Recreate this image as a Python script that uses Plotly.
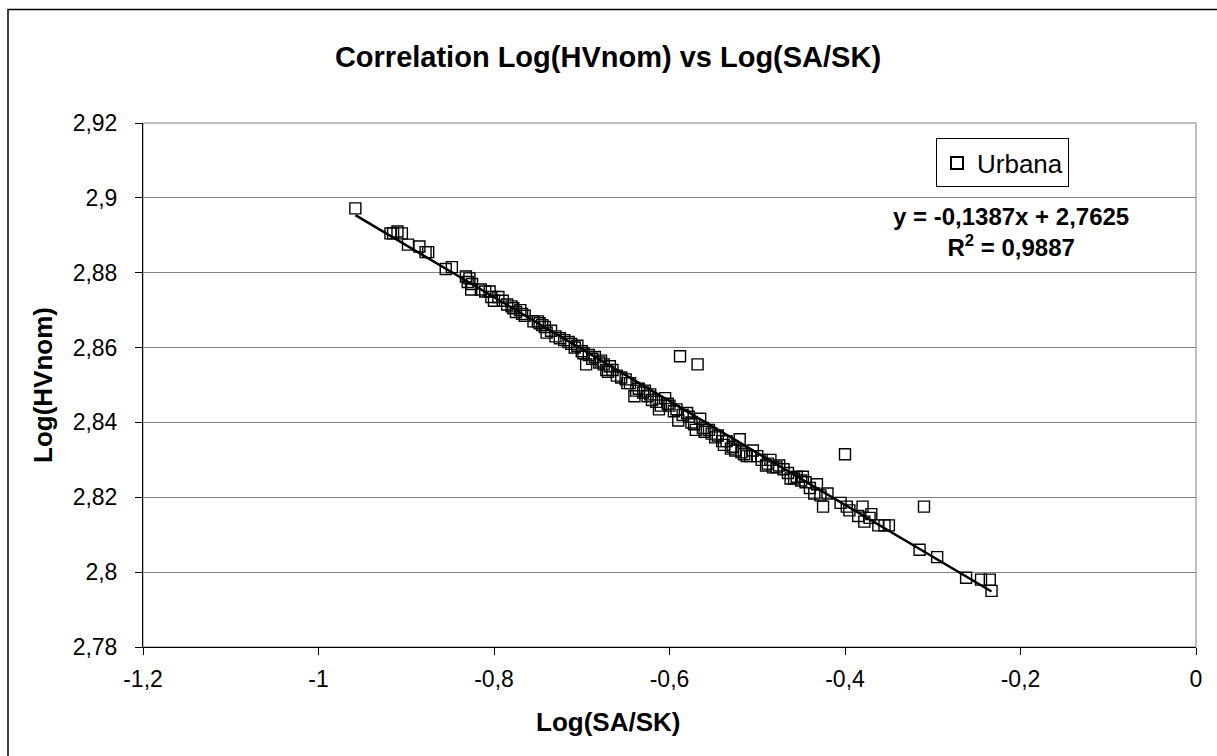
import plotly.graph_objects as go
import numpy as np

# Data (Log(SA/SK), Log(HVnom))
log_sa_sk = [
    -0.958, -0.918, -0.915, -0.910, -0.905, -0.898, -0.885, -0.878, -0.875,
    -0.855, -0.848, -0.832, -0.830, -0.828, -0.826, -0.825, -0.815, -0.810,
    -0.805, -0.803, -0.800, -0.795, -0.790, -0.785, -0.780, -0.778, -0.775,
    -0.770, -0.768, -0.765, -0.755, -0.750, -0.748, -0.745, -0.742, -0.740,
    -0.735, -0.730, -0.725, -0.720, -0.715, -0.712, -0.708, -0.705, -0.700,
    -0.698, -0.695, -0.692, -0.688, -0.685, -0.680, -0.678, -0.675, -0.672,
    -0.670, -0.668, -0.665, -0.660, -0.655, -0.650, -0.648, -0.645, -0.640,
    -0.638, -0.635, -0.630, -0.628, -0.625, -0.622, -0.620, -0.615, -0.612,
    -0.610, -0.605, -0.602, -0.600, -0.595, -0.592, -0.590, -0.588, -0.585,
    -0.580, -0.578, -0.575, -0.572, -0.570, -0.568, -0.565, -0.562, -0.560,
    -0.555, -0.552, -0.548, -0.545, -0.540, -0.538, -0.535, -0.530, -0.528,
    -0.525, -0.520, -0.518, -0.515, -0.512, -0.508, -0.505, -0.500, -0.495,
    -0.490, -0.488, -0.485, -0.482, -0.478, -0.475, -0.470, -0.465, -0.462,
    -0.458, -0.455, -0.450, -0.448, -0.445, -0.440, -0.435, -0.432, -0.428,
    -0.425, -0.420, -0.405, -0.400, -0.398, -0.395, -0.385, -0.380, -0.378,
    -0.372, -0.370, -0.362, -0.355, -0.350, -0.315, -0.310, -0.295, -0.262,
    -0.245, -0.235, -0.233,
]
log_hvnom = [
    2.8972, 2.8905, 2.8905, 2.8910, 2.8905, 2.8875, 2.8870, 2.8855, 2.8855,
    2.8810, 2.8815, 2.8790, 2.8775, 2.8785, 2.8755, 2.8770, 2.8755, 2.8750,
    2.8750, 2.8735, 2.8725, 2.8735, 2.8725, 2.8715, 2.8710, 2.8705, 2.8695,
    2.8700, 2.8690, 2.8685, 2.8670, 2.8670, 2.8665, 2.8660, 2.8655, 2.8640,
    2.8645, 2.8630, 2.8625, 2.8620, 2.8615, 2.8610, 2.8600, 2.8605, 2.8590,
    2.8585, 2.8555, 2.8580, 2.8570, 2.8575, 2.8560, 2.8565, 2.8555, 2.8540,
    2.8535, 2.8550, 2.8540, 2.8525, 2.8520, 2.8515, 2.8505, 2.8505, 2.8470,
    2.8485, 2.8490, 2.8480, 2.8485, 2.8470, 2.8475, 2.8460, 2.8455, 2.8435,
    2.8445, 2.8465, 2.8450, 2.8445, 2.8430, 2.8435, 2.8405, 2.8577, 2.8420,
    2.8425, 2.8415, 2.8400, 2.8395, 2.8380, 2.8555, 2.8410, 2.8385, 2.8375,
    2.8380, 2.8370, 2.8360, 2.8365, 2.8350, 2.8340, 2.8350, 2.8330, 2.8335,
    2.8325, 2.8355, 2.8320, 2.8315, 2.8310, 2.8310, 2.8325, 2.8310, 2.8300,
    2.8285, 2.8290, 2.8300, 2.8280, 2.8280, 2.8285, 2.8275, 2.8265, 2.8250,
    2.8250, 2.8255, 2.8245, 2.8255, 2.8240, 2.8225, 2.8210, 2.8235, 2.8205,
    2.8175, 2.8210, 2.8185, 2.8315, 2.8175, 2.8165, 2.8150, 2.8175, 2.8135,
    2.8145, 2.8155, 2.8125, 2.8125, 2.8125, 2.8060, 2.8175, 2.8040, 2.7985,
    2.7980, 2.7980, 2.7950,
]

# Trendline coefficients (as printed on the chart)
slope = -0.1387
intercept = 2.7625
r_squared = 0.9887

x_ticks = [-1.2, -1.0, -0.8, -0.6, -0.4, -0.2, 0.0]
x_tick_labels = ["-1,2", "-1", "-0,8", "-0,6", "-0,4", "-0,2", "0"]
y_ticks = [2.78, 2.80, 2.82, 2.84, 2.86, 2.88, 2.90, 2.92]
y_tick_labels = ["2,78", "2,8", "2,82", "2,84", "2,86", "2,88", "2,9", "2,92"]

FONT = "Liberation Sans, Arial, sans-serif"

x_line = np.array([min(log_sa_sk), max(log_sa_sk)])
y_line = slope * x_line + intercept

fig = go.Figure()
fig.add_trace(go.Scatter(
    x=log_sa_sk, y=log_hvnom, mode="markers", name="Urbana",
    marker=dict(symbol="square-open", size=11, color="black",
                line=dict(width=1.4, color="black")),
))
fig.add_trace(go.Scatter(
    x=x_line, y=y_line, mode="lines", showlegend=False,
    line=dict(color="black", width=2.5), hoverinfo="skip",
))

L, R, T, B = 143, 21, 122.5, 109
W, H = 1217, 756
pw, ph = W - L - R, H - T - B

def px_x(p):
    return (p - L) / pw

def px_y(p):
    return (H - B - p) / ph

eq_text = ("<b>y = %s0,%sx + 2,%s</b><br><b>R<sup>2</sup> = 0,%s</b>"
           % ("-", str(abs(slope))[2:], str(intercept)[2:], str(r_squared)[2:]))

fig.update_layout(
    width=W, height=H,
    margin=dict(l=L, r=R, t=T, b=B),
    paper_bgcolor="white", plot_bgcolor="white",
    font=dict(family=FONT, color="black", size=23),
    title=dict(text="<b>Correlation Log(HVnom) vs Log(SA/SK)</b>",
               x=608 / W, xref="container", xanchor="center",
               y=1 - 57 / H, yref="container", yanchor="middle",
               font=dict(size=29, family=FONT, color="black")),
    showlegend=True,
    legend=dict(x=px_x(936), y=px_y(138), xanchor="left", yanchor="top",
                bgcolor="white", bordercolor="black", borderwidth=1,
                font=dict(size=26, family=FONT), itemsizing="constant",
                tracegroupgap=0, itemwidth=30),
    xaxis=dict(range=[-1.2, 0], tickvals=x_ticks, ticktext=x_tick_labels,
               showgrid=False, zeroline=False, showline=True,
               linecolor="black", linewidth=1, ticks="outside", ticklen=7,
               tickcolor="black", ticklabelstandoff=4),
    yaxis=dict(range=[2.78, 2.92], tickvals=y_ticks, ticktext=y_tick_labels,
               showgrid=True, gridcolor="#808080", gridwidth=1,
               zeroline=False, showline=True,
               linecolor="black", linewidth=1, ticks="outside", ticklen=7,
               tickcolor="black", ticklabelstandoff=13,
               title=dict(text="<b>Log(HVnom)</b>", font=dict(size=26), standoff=12)),
    annotations=[
        dict(x=px_x(1011), y=px_y(232), xref="paper", yref="paper",
             xanchor="center", yanchor="middle", align="center", showarrow=False,
             text=eq_text, font=dict(size=24, family=FONT, color="black")),
        dict(x=px_x(608), y=px_y(722), xref="paper", yref="paper",
             xanchor="center", yanchor="middle", showarrow=False,
             text="<b>Log(SA/SK)</b>", font=dict(size=26, family=FONT, color="black")),
    ],
    shapes=[
        dict(type="rect", xref="paper", yref="paper",
             x0=0, x1=1, y0=0, y1=1, line=dict(color="#808080", width=1),
             layer="below"),
        dict(type="rect", xref="paper", yref="paper",
             x0=px_x(8), x1=px_x(1230), y0=px_y(770), y1=px_y(9),
             line=dict(color="black", width=1.5)),
    ],
)

fig.write_html("out.html")
